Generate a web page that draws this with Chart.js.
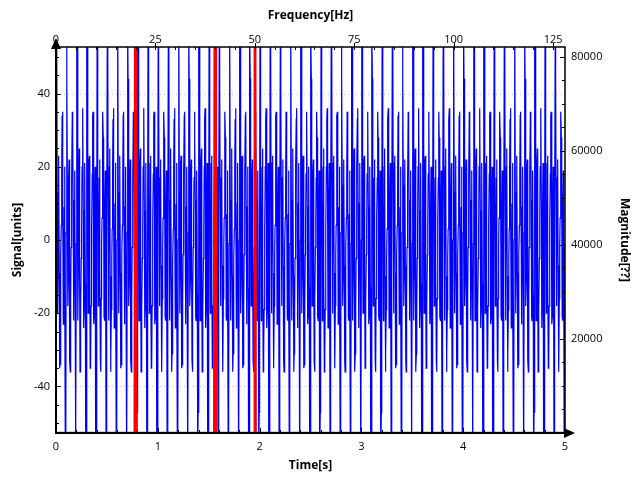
<!DOCTYPE html>
<html>
<head>
<meta charset="utf-8">
<script src="https://cdn.jsdelivr.net/npm/chart.js@4/dist/chart.umd.min.js"></script>
<style>
  html, body { margin: 0; padding: 0; background: #fff; }
  #wrap { width: 640px; height: 480px; }
</style>
</head>
<body>
<div id="wrap"><canvas id="chart" width="640" height="480"></canvas></div>
<script>
// Signal: three 0.1 s cycles (250 samples/s), repeated over 5 s
const sampleRate = 250;
const duration = 5;
const signalCycle = [
    0, 60, 62, 13, -20, -9, 21, 23, -9, -35, -34, -18, -4,
    4, 18, 34, 35, 9, -23, -21, 9, 20, -13, -62, -60,
    2, 58, 44, 15, -18, -11, 17, 22, -7, -33, -36, -16, -2,
    6, 17, 35, 28, 11, -21, -22, 7, 19, -15, -60, -47,
    -1, 61, 60, 11, -22, -8, 20, 25, -10, -36, -31, -19, -5,
    3, 20, 33, 36, 8, -24, -19, 10, 21, -12, -58, -62
];

// Spectrum: peaks at 20, 40 and 50 Hz, everything else ~0
const magFreqs  = [0, 19.8, 20, 20.2, 39.8, 40, 40.2, 49.8, 50, 50.2, 128];
const magValues = [0, 0, 160000, 0, 0, 160000, 0, 0, 160000, 0, 0];

// Tick labels
const timeTicks = [0, 1, 2, 3, 4, 5];
const freqTicks = [0, 25, 50, 75, 100, 125];
const signalTicks = [-40, -20, 0, 20, 40];
const magTicks = [20000, 40000, 60000, 80000];

const signalPoints = [];
for (let i = 0; i <= sampleRate * duration; i++) {
    signalPoints.push({ x: i / sampleRate, y: signalCycle[i % signalCycle.length] });
}
const magPoints = magFreqs.map((f, i) => ({ x: f, y: magValues[i] }));

const tickFont = { family: 'Open Sans', size: 11 };
const titleFont = { family: 'Open Sans', size: 12, weight: 'bold' };

function fixedTicks(values) {
    return scale => { scale.ticks = values.map(v => ({ value: v })); };
}
const plainLabel = v => String(v);

// grid, frame, inner tick marks and arrow heads
const axisDecor = {
    id: 'axisDecor',
    beforeDatasetsDraw(chart) {
        const { ctx, chartArea: a, scales } = chart;
        ctx.save();
        ctx.strokeStyle = '#c8c8c8';
        ctx.lineWidth = 1;
        ctx.setLineDash([1, 3]);
        signalTicks.forEach(v => {
            const y = Math.round(scales.y.getPixelForValue(v)) + 0.5;
            ctx.beginPath(); ctx.moveTo(a.left, y); ctx.lineTo(a.right, y); ctx.stroke();
        });
        timeTicks.slice(1, -1).forEach(v => {
            const x = Math.round(scales.x.getPixelForValue(v)) + 0.5;
            ctx.beginPath(); ctx.moveTo(x, a.top); ctx.lineTo(x, a.bottom); ctx.stroke();
        });
        ctx.restore();
    },
    afterDatasetsDraw(chart) {
        const { ctx, chartArea: a, scales } = chart;
        ctx.save();
        ctx.strokeStyle = '#000';
        ctx.fillStyle = '#000';

        // frame
        ctx.lineWidth = 1.5;
        ctx.strokeRect(a.left, a.top, a.right - a.left, a.bottom - a.top);
        ctx.lineWidth = 2;
        ctx.beginPath();
        ctx.moveTo(a.left, a.top); ctx.lineTo(a.left, a.bottom); ctx.lineTo(a.right, a.bottom);
        ctx.stroke();

        ctx.lineWidth = 1;
        // left ticks (every 5, major every 20)
        for (let v = -50; v <= 50; v += 5) {
            const y = Math.round(scales.y.getPixelForValue(v)) + 0.5;
            const len = v % 20 === 0 ? 5 : 3;
            ctx.beginPath(); ctx.moveTo(a.left, y); ctx.lineTo(a.left + len, y); ctx.stroke();
        }
        // right ticks (every 5000)
        for (let v = 5000; v <= 80000; v += 5000) {
            const y = Math.round(scales.y2.getPixelForValue(v)) + 0.5;
            const len = v % 20000 === 0 ? 5 : 3;
            ctx.beginPath(); ctx.moveTo(a.right, y); ctx.lineTo(a.right - len, y); ctx.stroke();
        }
        // bottom ticks (every 0.2 s)
        for (let i = 1; i < 25; i++) {
            const x = Math.round(scales.x.getPixelForValue(i * 0.2)) + 0.5;
            const len = i % 5 === 0 ? 5 : 3;
            ctx.beginPath(); ctx.moveTo(x, a.bottom); ctx.lineTo(x, a.bottom - len); ctx.stroke();
        }
        // top ticks (every 5 Hz, major ones poke outwards)
        for (let f = 5; f <= 125; f += 5) {
            const x = Math.round(scales.x2.getPixelForValue(f)) + 0.5;
            ctx.beginPath();
            if (f % 25 === 0) { ctx.moveTo(x, a.top - 4); ctx.lineTo(x, a.top + 3); }
            else { ctx.moveTo(x, a.top); ctx.lineTo(x, a.top + 3); }
            ctx.stroke();
        }

        // arrow heads
        ctx.beginPath();
        ctx.moveTo(a.left, a.top - 9);
        ctx.lineTo(a.left - 5, a.top + 2);
        ctx.lineTo(a.left + 5, a.top + 2);
        ctx.closePath(); ctx.fill();
        ctx.beginPath();
        ctx.moveTo(a.right + 10, a.bottom);
        ctx.lineTo(a.right - 1, a.bottom - 5);
        ctx.lineTo(a.right - 1, a.bottom + 5);
        ctx.closePath(); ctx.fill();
        ctx.restore();
    }
};

new Chart(document.getElementById('chart').getContext('2d'), {
    type: 'line',
    data: {
        datasets: [
            {
                label: 'Magnitude',
                data: magPoints,
                xAxisID: 'x2',
                yAxisID: 'y2',
                borderColor: '#ff0000',
                borderWidth: 2.5,
                pointRadius: 0,
                tension: 0,
                order: 0
            },
            {
                label: 'Signal',
                data: signalPoints,
                xAxisID: 'x',
                yAxisID: 'y',
                borderColor: '#0000ff',
                borderWidth: 1.2,
                pointRadius: 0,
                tension: 0,
                order: 1
            }
        ]
    },
    options: {
        responsive: false,
        animation: false,
        devicePixelRatio: 1,
        parsing: false,
        normalized: true,
        layout: { padding: 0 },
        plugins: { legend: { display: false }, tooltip: { enabled: false } },
        scales: {
            x: {
                type: 'linear', position: 'bottom', min: 0, max: 5,
                afterFit: s => { s.height = 47; },
                afterBuildTicks: fixedTicks(timeTicks),
                grid: { display: false, drawTicks: false },
                border: { display: false },
                ticks: { font: tickFont, color: '#000', padding: 7, maxRotation: 0, callback: plainLabel },
                title: { display: true, text: 'Time[s]', font: titleFont, color: '#000', padding: { top: 0, bottom: 7 } }
            },
            x2: {
                type: 'linear', position: 'top', min: 0, max: 128,
                afterFit: s => { s.height = 47; },
                afterBuildTicks: fixedTicks(freqTicks),
                grid: { display: false, drawTicks: false },
                border: { display: false },
                ticks: { font: tickFont, color: '#000', padding: 1, maxRotation: 0, callback: plainLabel },
                title: { display: true, text: 'Frequency[Hz]', font: titleFont, color: '#000', padding: { top: 8, bottom: 0 } }
            },
            y: {
                type: 'linear', position: 'left', min: -52.7, max: 52.7,
                afterFit: s => { s.width = 56; },
                afterBuildTicks: fixedTicks(signalTicks),
                grid: { display: false, drawTicks: false },
                border: { display: false },
                ticks: { font: tickFont, color: '#000', padding: 6, callback: plainLabel },
                title: { display: true, text: 'Signal[units]', font: titleFont, color: '#000', padding: { top: 10, bottom: 0 } }
            },
            y2: {
                type: 'linear', position: 'right', min: 0, max: 82100,
                afterFit: s => { s.width = 75; },
                afterBuildTicks: fixedTicks(magTicks),
                grid: { display: false, drawTicks: false },
                border: { display: false },
                ticks: { font: tickFont, color: '#000', padding: 6, callback: plainLabel },
                title: { display: true, text: 'Magnitude[??]', font: titleFont, color: '#000', padding: { top: 8, bottom: 0 } }
            }
        }
    },
    plugins: [axisDecor]
});
</script>
</body>
</html>
